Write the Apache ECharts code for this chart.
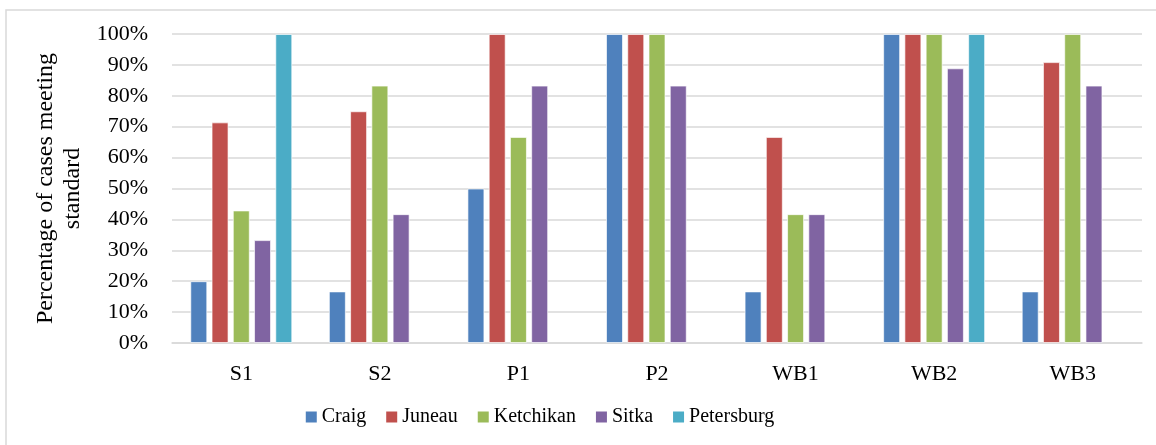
<!DOCTYPE html>
<html>
<head>
<meta charset="utf-8">
<script src="https://cdn.jsdelivr.net/npm/echarts@6/dist/echarts.min.js"></script>
<style>
  html, body { margin: 0; padding: 0; background: #fff; }
  #chart { width: 1156px; height: 445px; }
</style>
</head>
<body>
<div id="chart"></div>
<script>
// Sites (categories along the x axis)
const categories = ['S1', 'S2', 'P1', 'P2', 'WB1', 'WB2', 'WB3'];

// Percentage of cases meeting the standard, by community
const craig      = [20.0, 16.7, 50.0, 100, 16.7, 100, 16.7];
const juneau     = [71.4, 75.0, 100, 100, 66.7, 100, 90.9];
const ketchikan  = [42.9, 83.3, 66.7, 100, 41.7, 100, 100];
const sitka      = [33.3, 41.7, 83.3, 83.3, 41.7, 88.9, 83.3];
const petersburg = [100, null, null, null, null, 100, null];

const seriesNames = ['Craig', 'Juneau', 'Ketchikan', 'Sitka', 'Petersburg'];
const seriesData = [craig, juneau, ketchikan, sitka, petersburg];
const colors = ['#4F81BD', '#C0504D', '#9BBB59', '#8064A2', '#4BACC6'];

const yTicks = [0, 10, 20, 30, 40, 50, 60, 70, 80, 90, 100];

const serif = 'Liberation Serif';

// Key row (swatch + name per community) written as rich text under the category axis
const keyText = seriesNames.map((n, i) => `{k${i}| }{s| }{t|${n}}`).join('{g| }');
const keyRich = {
  s: { width: 5 },
  g: { width: 20 },
  t: { fontFamily: serif, fontSize: 20, color: '#000', verticalAlign: 'middle', lineHeight: 24 }
};
colors.forEach((c, i) => {
  keyRich['k' + i] = { width: 11, height: 11, backgroundColor: c, verticalAlign: 'middle' };
});

const chart = echarts.init(document.getElementById('chart'), null, { renderer: 'canvas' });

chart.setOption({
  animation: false,
  backgroundColor: '#fff',
  color: colors,
  textStyle: { fontFamily: serif },
  graphic: [
    {
      type: 'rect',
      shape: { x: 6, y: 10, width: 1300, height: 600 },
      style: { fill: 'none', stroke: '#d9d9d9', lineWidth: 1.5 },
      silent: true,
      z: -10
    }
  ],
  grid: { left: 172, right: 14, top: 34, bottom: 102, containLabel: false },
  legend: { show: false },
  xAxis: {
    type: 'category',
    data: categories,
    name: keyText,
    nameLocation: 'middle',
    nameGap: 62,
    nameTextStyle: {
      fontFamily: serif,
      fontSize: 20,
      color: '#000',
      padding: [0, 234, 0, 0],
      rich: keyRich
    },
    axisLine: { show: true, lineStyle: { color: '#d9d9d9', width: 1.5 } },
    axisTick: { show: false },
    axisLabel: { margin: 20, fontFamily: serif, fontSize: 22, color: '#000' },
    splitLine: { show: false }
  },
  yAxis: {
    type: 'value',
    min: yTicks[0],
    max: yTicks[yTicks.length - 1],
    interval: 10,
    name: 'Percentage of cases meeting\nstandard',
    nameLocation: 'middle',
    nameRotate: 90,
    nameGap: 84,
    nameTextStyle: { fontFamily: serif, fontSize: 24, color: '#000', lineHeight: 27, align: 'center' },
    axisLine: { show: false },
    axisTick: { show: false },
    axisLabel: {
      margin: 24,
      fontFamily: serif,
      fontSize: 22,
      color: '#000',
      formatter: v => v + '%'
    },
    splitLine: { lineStyle: { color: '#d9d9d9', width: 1.5 } }
  },
  series: seriesNames.map((name, i) => ({
    name: name,
    type: 'bar',
    data: seriesData[i],
    barWidth: 17,
    barGap: '25%',
    itemStyle: {
      color: colors[i],
      borderColor: 'rgba(255,255,255,0.65)',
      borderWidth: 1
    }
  }))
});
</script>
</body>
</html>
